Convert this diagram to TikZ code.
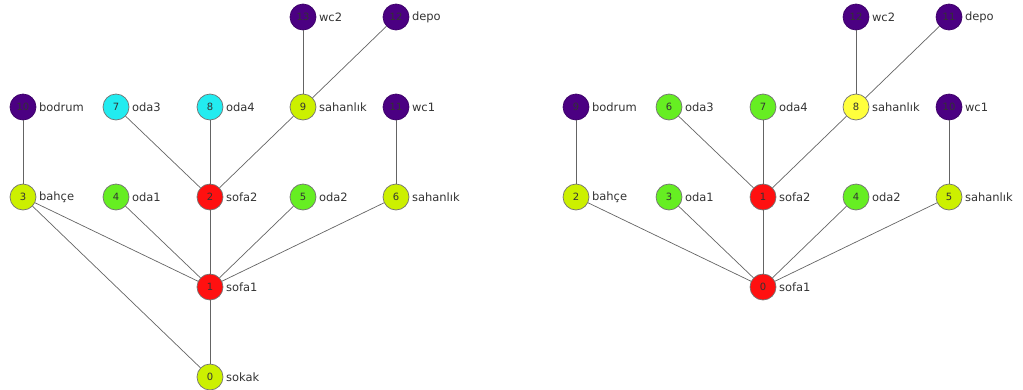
\documentclass[tikz,border=0pt]{standalone}
\usepackage{fontspec}
\setmainfont{DejaVu Sans}
\usetikzlibrary{positioning}
\definecolor{limenode}{RGB}{204, 240, 0}
\definecolor{greennode}{RGB}{102, 238, 34}
\definecolor{cyannode}{RGB}{34, 236, 240}
\definecolor{rednode}{RGB}{255, 16, 16}
\definecolor{yellownode}{RGB}{255, 255, 60}
\definecolor{purplenode}{RGB}{75, 0, 130}
\definecolor{edgegray}{RGB}{100, 100, 100}

\begin{document}
\begin{tikzpicture}[
    x=1pt, y=-1pt,
    node distance=1.5pt,
    roomnode/.style={circle, draw=black!55, line width=0.7pt, minimum size=26pt, inner sep=0pt, font=\fontsize{10}{10}\selectfont, text=black!80},
    roomlabel/.style={inner sep=1pt, font=\fontsize{11.5}{11.5}\selectfont, text=black!80},
    lime/.style={roomnode, fill=limenode},
    green/.style={roomnode, fill=greennode},
    cyan/.style={roomnode, fill=cyannode},
    red/.style={roomnode, fill=rednode},
    yellow/.style={roomnode, fill=yellownode},
    purple/.style={roomnode, fill=purplenode, draw=purplenode!80!black},
    link/.style={draw=edgegray, line width=0.7pt},
]
    \useasboundingbox (0,0) rectangle (1023,389);

    % left graph
    \node[lime]   (a0)  at (210,377) {0};
    \node[red]    (a1)  at (210,287) {1};
    \node[red]    (a2)  at (210,197) {2};
    \node[lime]   (a3)  at (23,197)  {3};
    \node[green]  (a4)  at (116,197) {4};
    \node[green]  (a5)  at (303,197) {5};
    \node[lime]   (a6)  at (396,197) {6};
    \node[cyan]   (a7)  at (116,107) {7};
    \node[cyan]   (a8)  at (210,107) {8};
    \node[lime]   (a9)  at (303,107) {9};
    \node[purple] (a10) at (23,107)  {10};
    \node[purple] (a11) at (396,107) {11};
    \node[purple] (a12) at (396,17)  {12};
    \node[purple] (a13) at (303,17)  {13};

    \node[roomlabel, right=of a0]  (la0)  {sokak};
    \node[roomlabel, right=of a1]  (la1)  {sofa1};
    \node[roomlabel, right=of a2]  (la2)  {sofa2};
    \node[roomlabel, right=of a3]  (la3)  {bahçe};
    \node[roomlabel, right=of a4]  (la4)  {oda1};
    \node[roomlabel, right=of a5]  (la5)  {oda2};
    \node[roomlabel, right=of a6]  (la6)  {sahanlık};
    \node[roomlabel, right=of a7]  (la7)  {oda3};
    \node[roomlabel, right=of a8]  (la8)  {oda4};
    \node[roomlabel, right=of a9]  (la9)  {sahanlık};
    \node[roomlabel, right=of a10] (la10) {bodrum};
    \node[roomlabel, right=of a11] (la11) {wc1};
    \node[roomlabel, right=of a12] (la12) {depo};
    \node[roomlabel, right=of a13] (la13) {wc2};

    \draw[link] (a0) -- (a1);
    \draw[link] (a0) -- (a3);
    \draw[link] (a1) -- (a3);
    \draw[link] (a1) -- (a4);
    \draw[link] (a1) -- (a2);
    \draw[link] (a1) -- (a5);
    \draw[link] (a1) -- (a6);
    \draw[link] (a2) -- (a7);
    \draw[link] (a2) -- (a8);
    \draw[link] (a2) -- (a9);
    \draw[link] (a3) -- (a10);
    \draw[link] (a6) -- (a11);
    \draw[link] (a9) -- (a13);
    \draw[link] (a9) -- (a12);

    % right graph
    \node[red]    (b0)  at (763,287) {0};
    \node[red]    (b1)  at (763,197) {1};
    \node[lime]   (b2)  at (576,197) {2};
    \node[green]  (b3)  at (669,197) {3};
    \node[green]  (b4)  at (856,197) {4};
    \node[lime]   (b5)  at (949,197) {5};
    \node[green]  (b6)  at (669,107) {6};
    \node[green]  (b7)  at (763,107) {7};
    \node[yellow] (b8)  at (856,107) {8};
    \node[purple] (b9)  at (576,107) {9};
    \node[purple] (b10) at (949,107) {10};
    \node[purple] (b11) at (949,17)  {11};
    \node[purple] (b12) at (856,17)  {12};

    \node[roomlabel, right=of b0]  (lb0)  {sofa1};
    \node[roomlabel, right=of b1]  (lb1)  {sofa2};
    \node[roomlabel, right=of b2]  (lb2)  {bahçe};
    \node[roomlabel, right=of b3]  (lb3)  {oda1};
    \node[roomlabel, right=of b4]  (lb4)  {oda2};
    \node[roomlabel, right=of b5]  (lb5)  {sahanlık};
    \node[roomlabel, right=of b6]  (lb6)  {oda3};
    \node[roomlabel, right=of b7]  (lb7)  {oda4};
    \node[roomlabel, right=of b8]  (lb8)  {sahanlık};
    \node[roomlabel, right=of b9]  (lb9)  {bodrum};
    \node[roomlabel, right=of b10] (lb10) {wc1};
    \node[roomlabel, right=of b11] (lb11) {depo};
    \node[roomlabel, right=of b12] (lb12) {wc2};

    \draw[link] (b0) -- (b1);
    \draw[link] (b0) -- (b2);
    \draw[link] (b0) -- (b3);
    \draw[link] (b0) -- (b4);
    \draw[link] (b0) -- (b5);
    \draw[link] (b1) -- (b6);
    \draw[link] (b1) -- (b7);
    \draw[link] (b1) -- (b8);
    \draw[link] (b2) -- (b9);
    \draw[link] (b5) -- (b10);
    \draw[link] (b8) -- (b12);
    \draw[link] (b8) -- (b11);
\end{tikzpicture}
\end{document}
